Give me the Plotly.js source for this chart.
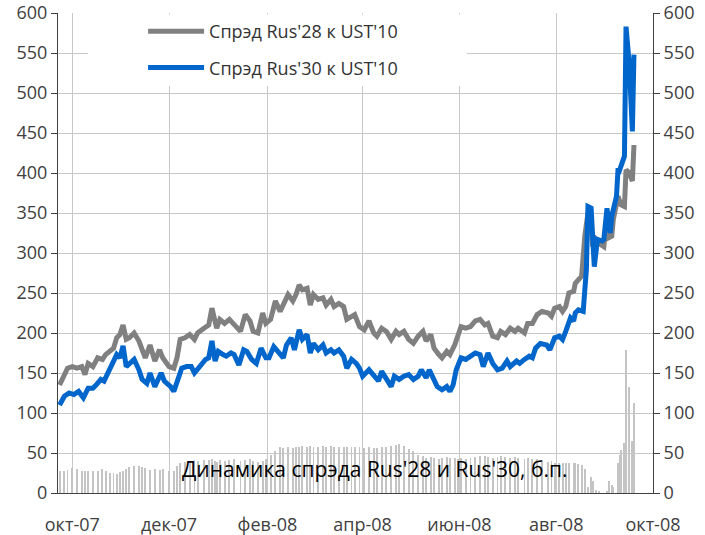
<!DOCTYPE html>
<html><head><meta charset="utf-8">
<script src="https://cdn.plot.ly/plotly-3.0.1.min.js"></script>
<style>html,body{margin:0;padding:0;background:#fff;}#chart{width:705px;height:535px;}</style>
</head><body><div id="chart"></div>
<script>
const dates28 = ['2007-09-23','2007-09-26','2007-09-28','2007-10-01','2007-10-04','2007-10-07','2007-10-09','2007-10-11','2007-10-14','2007-10-17',
'2007-10-20','2007-10-22','2007-10-25','2007-10-27','2007-10-29','2007-10-31','2007-11-02','2007-11-04','2007-11-06','2007-11-09',
'2007-11-12','2007-11-14','2007-11-16','2007-11-19','2007-11-22','2007-11-25','2007-11-27','2007-12-01','2007-12-04','2007-12-06',
'2007-12-08','2007-12-11','2007-12-14','2007-12-17','2007-12-19','2007-12-23','2007-12-26','2007-12-28','2007-12-30','2007-12-31',
'2008-01-02','2008-01-05','2008-01-08','2008-01-11','2008-01-15','2008-01-18','2008-01-21','2008-01-23','2008-01-26','2008-01-29',
'2008-01-31','2008-02-03','2008-02-06','2008-02-09','2008-02-11','2008-02-14','2008-02-17','2008-02-19','2008-02-21','2008-02-23',
'2008-02-26','2008-02-28','2008-03-01','2008-03-04','2008-03-07','2008-03-09','2008-03-12','2008-03-14','2008-03-17','2008-03-20',
'2008-03-22','2008-03-25','2008-03-27','2008-03-30','2008-04-02','2008-04-05','2008-04-08','2008-04-10','2008-04-13','2008-04-16',
'2008-04-19','2008-04-22','2008-04-24','2008-04-27','2008-04-30','2008-05-03','2008-05-06','2008-05-09','2008-05-11','2008-05-14',
'2008-05-16','2008-05-19','2008-05-21','2008-05-24','2008-05-26','2008-05-29','2008-05-31','2008-06-02','2008-06-05','2008-06-08',
'2008-06-11','2008-06-14','2008-06-17','2008-06-19','2008-06-22','2008-06-25','2008-06-27','2008-06-30','2008-07-03','2008-07-06',
'2008-07-08','2008-07-12','2008-07-14','2008-07-17','2008-07-20','2008-07-23','2008-07-27','2008-07-29','2008-07-31','2008-08-03',
'2008-08-05','2008-08-07','2008-08-09','2008-08-12','2008-08-13','2008-08-15','2008-08-17','2008-08-19','2008-08-21','2008-08-23',
'2008-08-24','2008-08-26','2008-08-28','2008-08-31','2008-09-02','2008-09-03','2008-09-05','2008-09-06','2008-09-09','2008-09-10',
'2008-09-11','2008-09-13','2008-09-14','2008-09-16','2008-09-18','2008-09-19'];
const rus28 = [135,150,156,158,156,158,148,162,158,169,
167,173,177,181,194,198,210,192,194,200,
190,177,169,185,165,179,169,158,156,169,
192,194,198,192,200,206,210,231,212,206,
217,212,217,210,202,223,215,202,200,225,
212,217,240,227,235,248,240,248,260,254,
256,235,248,242,244,235,242,233,237,233,
217,221,223,208,204,215,200,196,206,202,
192,202,198,202,192,187,196,202,190,198,
181,173,169,177,173,185,196,208,206,208,
215,217,210,212,196,194,202,198,206,202,
206,200,212,212,223,227,225,221,231,233,
227,233,250,252,262,267,271,321,350,333,
308,317,312,308,342,319,321,342,371,365,
360,358,404,400,390,435];
const spreadDiff = [27,27,29,31,30,28,28,28,28,28,
30,27,25,25,24,26,28,30,32,34,
34,33,31,29,30,29,30,28,27,34,
38,39,40,41,40,41,41,42,40,39,
41,40,41,42,40,41,42,40,39,40,
42,48,53,57,56,57,56,58,58,59,
58,59,58,58,59,58,59,58,58,58,
58,58,57,57,56,57,56,56,57,58,
59,60,61,59,55,52,48,46,44,45,
44,43,44,45,44,44,43,44,43,44,
45,46,46,45,44,45,46,45,44,45,
44,43,44,43,42,40,39,40,38,37,
37,37,37,37,37,36,35,30,8,20,
15,4,2,0,3,15,10,8,37,47,
54,62,179,133,65,112];
const dates30 = ['2007-09-23','2007-09-26','2007-09-29','2007-10-02','2007-10-05','2007-10-08','2007-10-11','2007-10-14','2007-10-16','2007-10-19',
'2007-10-21','2007-10-24','2007-10-26','2007-10-29','2007-10-31','2007-11-02','2007-11-04','2007-11-06','2007-11-09','2007-11-12',
'2007-11-14','2007-11-17','2007-11-19','2007-11-22','2007-11-24','2007-11-26','2007-11-28','2007-12-02','2007-12-04','2007-12-07',
'2007-12-09','2007-12-12','2007-12-15','2007-12-17','2007-12-21','2007-12-24','2007-12-26','2007-12-28','2007-12-30','2008-01-01',
'2008-01-04','2008-01-06','2008-01-09','2008-01-11','2008-01-14','2008-01-17','2008-01-19','2008-01-22','2008-01-25','2008-01-28',
'2008-01-31','2008-02-02','2008-02-05','2008-02-08','2008-02-11','2008-02-13','2008-02-16','2008-02-18','2008-02-21','2008-02-23',
'2008-02-26','2008-02-28','2008-03-01','2008-03-04','2008-03-07','2008-03-09','2008-03-12','2008-03-14','2008-03-17','2008-03-20',
'2008-03-22','2008-03-25','2008-03-28','2008-03-30','2008-04-01','2008-04-05','2008-04-08','2008-04-11','2008-04-13','2008-04-16',
'2008-04-19','2008-04-21','2008-04-24','2008-04-27','2008-04-30','2008-05-03','2008-05-06','2008-05-08','2008-05-11','2008-05-13',
'2008-05-16','2008-05-18','2008-05-21','2008-05-24','2008-05-26','2008-05-28','2008-05-30','2008-06-02','2008-06-05','2008-06-08',
'2008-06-11','2008-06-14','2008-06-16','2008-06-19','2008-06-22','2008-06-25','2008-06-28','2008-07-01','2008-07-03','2008-07-07',
'2008-07-09','2008-07-12','2008-07-15','2008-07-17','2008-07-19','2008-07-22','2008-07-26','2008-07-28','2008-07-31','2008-08-03',
'2008-08-05','2008-08-07','2008-08-10','2008-08-12','2008-08-13','2008-08-15','2008-08-18','2008-08-20','2008-08-21','2008-08-23',
'2008-08-25','2008-08-27','2008-08-30','2008-08-31','2008-09-02','2008-09-04','2008-09-05','2008-09-08','2008-09-09','2008-09-10',
'2008-09-12','2008-09-13','2008-09-14','2008-09-16','2008-09-18','2008-09-19'];
const rus30 = [110,121,125,123,127,119,131,131,135,142,
140,152,158,173,169,184,158,162,167,154,
142,137,150,133,140,150,140,133,127,146,
156,158,158,150,160,167,169,190,165,177,
173,171,175,173,160,179,177,167,162,181,
169,169,183,175,169,185,194,179,204,192,
198,175,187,179,185,175,179,175,179,171,
156,167,162,156,146,154,146,140,152,142,
133,146,142,146,148,142,146,154,144,154,
142,133,129,133,127,135,154,169,167,171,
175,173,158,175,162,154,156,165,158,165,
162,167,171,169,181,187,185,179,194,196,
192,202,219,215,225,229,227,279,358,356,
283,317,315,317,356,325,346,371,406,404,
419,421,583,537,452,548];
const tickDates = ['2007-10-01','2007-12-01','2008-02-01','2008-04-01','2008-06-01','2008-08-01','2008-10-01'];
const tickLabels = ['окт-07','дек-07','фев-08','апр-08','июн-08','авг-08','окт-08'];
const seriesNames = ["Спрэд Rus'28 к UST'10", "Спрэд Rus'30 к UST'10"];
const chartNote = "Динамика спрэда Rus'28 и Rus'30, б.п.";

const FONT = '"Open Sans", "Noto Sans", sans-serif';
const DAY = 86400000;

const traces = [
  {type:'bar', x:dates28, y:spreadDiff, yaxis:'y2', width:1.2*DAY,
   marker:{color:'#c4c4c4', line:{width:0}}, showlegend:false, hoverinfo:'skip'},
  {type:'scatter', mode:'lines', x:dates28, y:rus28, name:seriesNames[0], legendgroup:'a',
   line:{color:'#808080', width:5}},
  {type:'scatter', mode:'lines', x:dates30, y:rus30, name:seriesNames[1], legendgroup:'b',
   line:{color:'#0066cc', width:5}}
];

const yCommon = {range:[0,600], dtick:50, tick0:0, showline:true, linecolor:'#404040', linewidth:1,
  ticks:'outside', ticklen:6, tickcolor:'#404040', zeroline:false, tickfont:{size:18, color:'#404040'}};

const layout = {
  width:705, height:535, margin:{l:58, r:52, t:13, b:42, pad:0},
  paper_bgcolor:'#ffffff', plot_bgcolor:'#ffffff',
  font:{family:FONT, size:18, color:'#404040'},
  xaxis:{type:'date', range:['2007-09-22','2008-10-01'], tickvals:tickDates, ticktext:tickLabels,
    showgrid:true, gridcolor:'#c8c8c8', gridwidth:1, showline:true, linecolor:'#404040', linewidth:1,
    ticks:'outside', ticklen:15, tickcolor:'rgba(0,0,0,0)', zeroline:false, tickfont:{size:18, color:'#404040'}},
  yaxis:Object.assign({showgrid:true, gridcolor:'#c8c8c8', gridwidth:1}, yCommon),
  yaxis2:Object.assign({overlaying:'y', side:'right', showgrid:false}, yCommon),
  legend:{x:0.143, y:1, xanchor:'left', yanchor:'top', bgcolor:'rgba(0,0,0,0)',
    font:{size:18, color:'#333333'}, traceorder:'grouped', tracegroupgap:10, itemwidth:56},
  shapes:[{type:'rect', xref:'paper', yref:'paper', x0:0.0504, x1:0.687, y0:0.848, y1:0.997,
    fillcolor:'#ffffff', line:{width:0}, layer:'above'}],
  annotations:[{xref:'paper', yref:'paper', x:0.533, y:0.05, xanchor:'center', yanchor:'middle',
    text:chartNote, showarrow:false, font:{size:21, color:'#000000'}}],
  bargap:0, showlegend:true
};

Plotly.newPlot('chart', traces, layout, {displayModeBar:false, staticPlot:true});
</script></body></html>
